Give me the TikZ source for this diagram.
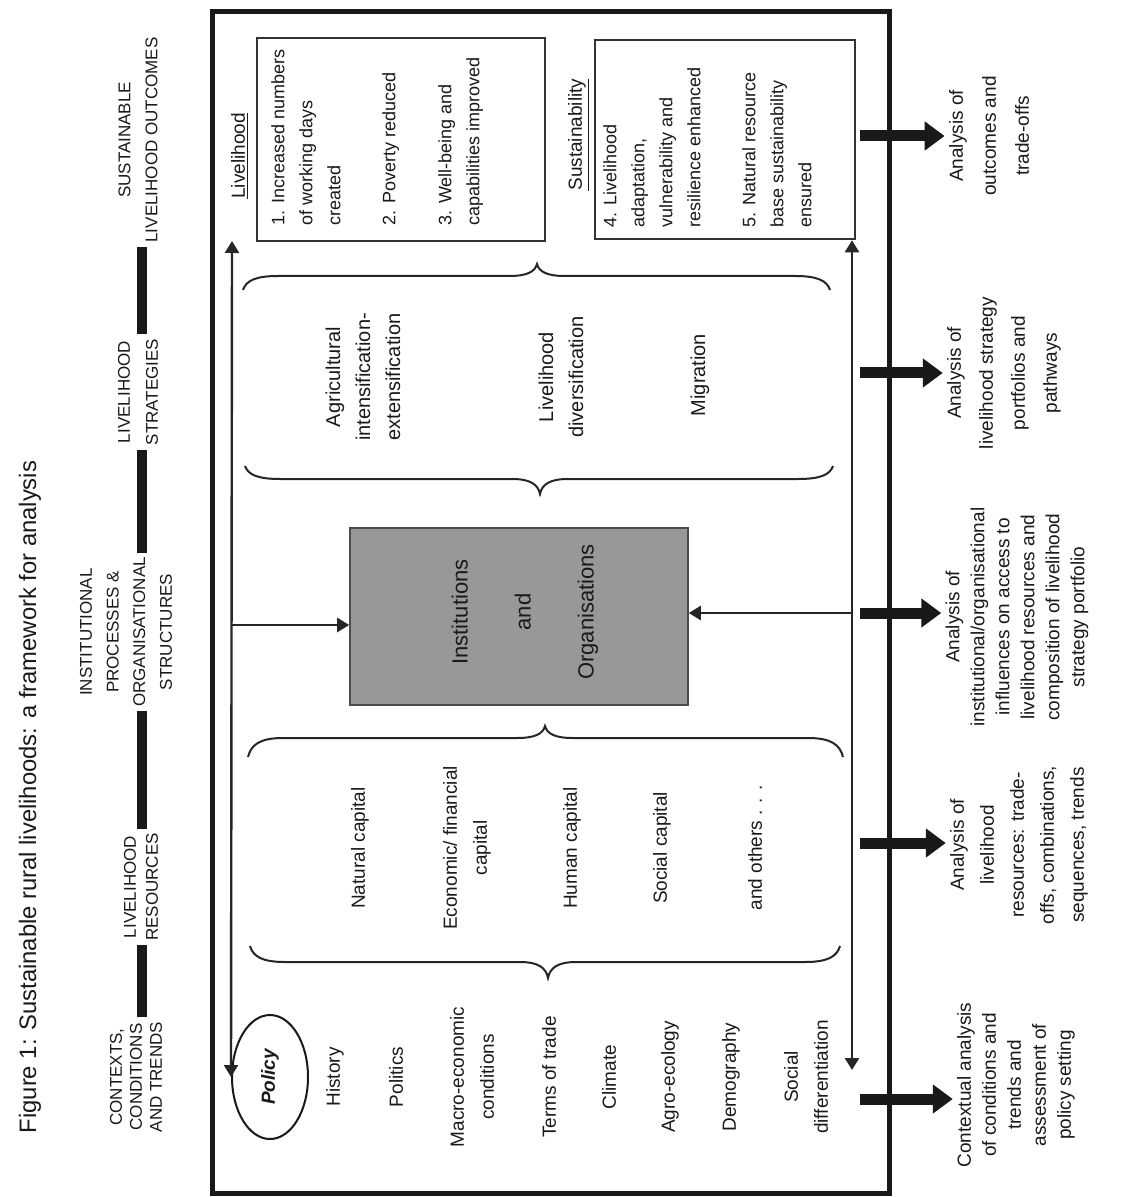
\documentclass[tikz,border=0pt]{standalone}
\usepackage{fontspec}
\setmainfont{Liberation Sans}
\usetikzlibrary{arrows.meta,shapes.geometric}
\definecolor{boxgray}{RGB}{152,152,152}
\definecolor{ink}{RGB}{25,25,25}
\newcommand{\hbrace}[6]{%
  \draw[bracepen] (#1,{#3+#4}) .. controls ({#1+3},{#3+0.35*#4}) and ({#1+12},#3) .. ({#1+35},#3)
   -- ({#5-28},#3) .. controls ({#5-10},#3) and ({#5-2},{#3+0.35*#6}) .. (#5,{#3+#6})
   .. controls ({#5+2},{#3+0.35*#6}) and ({#5+10},#3) .. ({#5+28},#3)
   -- ({#2-35},#3) .. controls ({#2-12},#3) and ({#2-3},{#3+0.35*#4}) .. (#2,{#3+#4});}
\begin{document}
\begin{tikzpicture}[x=0.5pt,y=-0.5pt,
  >={Triangle[length=6pt,width=7pt]},
  rt/.style={rotate=90, inner sep=0pt, align=center, text=ink},
  ttl/.style={rt, font=\fontsize{11.9}{14}\selectfont},
  hdr/.style={rt, inner sep=2pt, font=\fontsize{8.5}{#1}\selectfont},
  citem/.style={rt, font=\fontsize{9.5}{15}\selectfont},
  sitem/.style={rt, font=\fontsize{10}{15}\selectfont},
  btxt/.style={rt, anchor=north west, align=left, font=\fontsize{9}{14}\selectfont},
  lbl/.style={rt, anchor=west, font=\fontsize{9.5}{12}\selectfont},
  ana/.style={rt, font=\fontsize{9.5}{#1}\selectfont},
  bar/.style={line width=5pt, draw=ink},
  thinline/.style={line width=1.2pt, draw=black!85},
  bigarrow/.style={line width=5.5pt, draw=ink, -{Triangle[length=10pt,width=14pt]}},
  obox/.style={draw=black!80, line width=1.3pt, inner sep=0pt},
  bracepen/.style={line width=1pt, draw=black!85}
]
\fill[white] (0,0) rectangle (1122,1197);
\useasboundingbox (0,0) rectangle (1122,1197);

% title
\node[ttl] (title) at (30,797) {Figure 1: Sustainable rural livelihoods: a framework for analysis};

% headers
\node[hdr=13.5pt] (hO) at (138,140) {SUSTAINABLE\\LIVELIHOOD OUTCOMES};
\node[hdr=14pt] (hS) at (138,392) {LIVELIHOOD\\STRATEGIES};
\node[hdr=13.3pt] (hI) at (126,632) {INSTITUTIONAL\\PROCESSES \&\\ORGANISATIONAL\\STRUCTURES};
\node[hdr=11pt] (hR) at (141,887) {LIVELIHOOD\\RESOURCES};
\node[hdr=10pt] (hC) at (136,1077) {CONTEXTS,\\CONDITIONS\\AND TRENDS};
\coordinate (barx) at (142,0);
\draw[bar] (hC.east -| barx) -- (hR.west -| barx);
\draw[bar] (hR.east -| barx) -- (hI.west -| barx);
\draw[bar] (hI.east -| barx) -- (hS.west -| barx);
\draw[bar] (hS.east -| barx) -- (hO.west -| barx);

% outer frame
\draw[line width=2.5pt, draw=ink] (212,12) rectangle (889,1193);

% outcome boxes
\node[obox, minimum width=144pt, minimum height=101.5pt] (box1) at (401,139.5) {};
\node[obox, minimum width=130pt, minimum height=99.5pt] (box2) at (725,139.5) {};
\node[lbl] (lblL) at (240,199) {\underline{Livelihood}};
\node[lbl] (lblS) at (579,191) {\underline{Sustainability}};
\node[btxt] (o1) at (271,226) {1. Increased numbers\\of working days\\created};
\node[btxt] (o2) at (382,226) {2. Poverty reduced};
\node[btxt] (o3) at (438,226) {3. Well-being and\\capabilities improved};
\node[btxt] (o4) at (603,228) {4. Livelihood\\adaptation,\\vulnerability and\\resilience enhanced};
\node[btxt] (o5) at (742,228) {5. Natural resource\\base sustainability\\ensured};

% strategies
\hbrace{243}{830}{276}{14}{537}{-12}
\hbrace{245}{833}{479}{-13}{540}{15}
\node[sitem] (s1) at (363,377) {Agricultural\\intensification-\\extensification};
\node[sitem] (s2) at (561,377) {Livelihood\\diversification};
\node[sitem] (s3) at (700,375) {Migration};

% institutions
\node[draw=black!70, fill=boxgray, line width=0.8pt, minimum width=169pt, minimum height=88.5pt, inner sep=0pt] (inst) at (519,616.5) {};
\node[rt, font=\fontsize{11}{31.5}\selectfont] (instT) at (525,612) {Institutions\\and\\Organisations};

% resources
\hbrace{248}{843}{738}{19}{545}{-12}
\hbrace{250}{840}{962}{-16}{548}{16}
\node[citem] (r1) at (360,848) {Natural capital};
\node[citem] (r2) at (467,848) {Economic/ financial\\capital};
\node[citem] (r3) at (572,848) {Human capital};
\node[citem] (r4) at (662,848) {Social capital};
\node[citem] (r5) at (755,848) {and others . . .};

% contexts
\node[rt, ellipse, draw=ink, line width=1pt, minimum width=62pt, minimum height=38pt,
      font=\bfseries\itshape\fontsize{9.5}{12}\selectfont] (policy) at (270,1077) {Policy};
\node[citem] (c1) at (335,1077) {History};
\node[citem] (c2) at (396,1077) {Politics};
\node[citem] (c3) at (472,1077) {Macro-economic\\conditions};
\node[citem] (c4) at (549,1077) {Terms of trade};
\node[citem] (c5) at (609,1077) {Climate};
\node[citem] (c6) at (670,1077) {Agro-ecology};
\node[citem] (c7) at (731,1077) {Demography};
\node[citem] (c8) at (806,1077) {Social\\differentiation};

% feedback lines
\coordinate (ltop) at (232,241);
\coordinate (lmid) at (232,625);
\draw[thinline, <->] (ltop) -- (policy.north);
\draw[thinline, ->] (lmid) -- (lmid -| inst.west);
\coordinate (rbot) at (852,1070);
\coordinate (rmid) at (852,613);
\draw[thinline, <->] (box2.south -| rbot) -- (rbot);
\draw[thinline, ->] (rmid) -- (rmid -| inst.east);

% analysis texts
\node[ana=16.5pt] (ana1) at (989,136) {Analysis of\\outcomes and\\trade-offs};
\node[ana=16pt] (ana2) at (1004,373) {Analysis of\\livelihood strategy\\portfolios and\\pathways};
\node[ana=12.5pt] (ana3) at (1017,617) {Analysis of\\institutional/organisational\\influences on access to\\livelihood resources and\\composition of livelihood\\strategy portfolio};
\node[ana=15pt] (ana4) at (1019,845) {Analysis of\\livelihood\\resources: trade-\\offs, combinations,\\sequences, trends};
\node[ana=12.5pt] (ana5) at (1016,1085) {Contextual analysis\\of conditions and\\trends and\\assessment of\\policy setting};

\coordinate (t1) at (860,136);
\coordinate (t2) at (860,373);
\coordinate (t3) at (860,613);
\coordinate (t4) at (860,843);
\coordinate (t5) at (860,1099);
\draw[bigarrow, shorten >=2pt] (t1) -- (t1 -| ana1.north);
\draw[bigarrow, shorten >=2pt] (t2) -- (t2 -| ana2.north);
\draw[bigarrow, shorten >=2pt] (t3) -- (t3 -| ana3.north);
\draw[bigarrow, shorten >=2pt] (t4) -- (t4 -| ana4.north);
\draw[bigarrow, shorten >=2pt] (t5) -- (t5 -| ana5.north);
\end{tikzpicture}
\end{document}
